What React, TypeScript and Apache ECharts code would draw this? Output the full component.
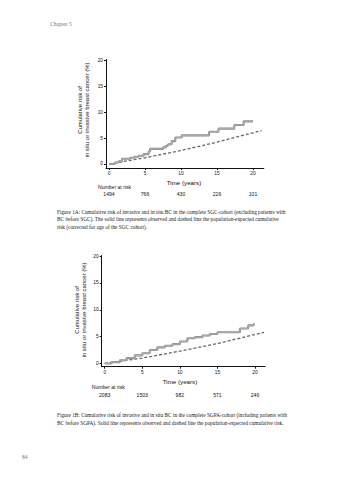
import React, { useEffect, useRef } from "react";
import * as echarts from "echarts";

// Figure 1A (SGC cohort)
const observedA: [number, number][] = [
  [0, 0], [0.8, 0.3], [1.3, 0.5], [1.8, 1.0], [2.9, 1.2], [3.5, 1.4], [4.1, 1.6],
  [4.8, 1.9], [5.5, 2.4], [5.7, 2.9], [7.5, 3.2], [7.9, 3.5], [8.2, 3.8], [8.7, 4.4],
  [9.2, 5.1], [10.1, 5.5], [13.9, 6.2], [15.2, 6.8], [17.4, 7.5], [18.7, 8.2], [20, 8.2],
];
const expectedA: [number, number][] = [
  [0, 0], [5, 1.2], [10, 2.6], [15, 4.2], [20, 6.0], [21.2, 6.4],
];
const riskYears = [0, 5, 10, 15, 20];
const riskA = ["1494", "766", "430", "226", "101"];

// Figure 1B (SGPA cohort)
const observedB: [number, number][] = [
  [0, 0], [0.9, 0.25], [2, 0.6], [2.9, 1.0], [4, 1.5], [5, 1.9], [6, 2.5], [7, 3.0],
  [8, 3.3], [9, 3.6], [10, 4.1], [11, 4.7], [12, 4.9], [13, 5.2], [14, 5.5], [15, 5.8],
  [18, 6.5], [19.1, 7.1], [19.8, 7.3], [20, 7.3],
];
const expectedB: [number, number][] = [
  [0, 0], [5, 1.0], [10, 2.3], [15, 3.7], [20, 5.4], [21.2, 5.8],
];
const riskB = ["2083", "1503", "982", "571", "246"];

const xTicks = [0, 5, 10, 15, 20];
const yTicks = [0, 5, 10, 15, 20];

const yTitle = "Cumulative risk of\nin situ or invasive breast cancer (%)";
const xTitle = "Time (years)";
const riskTitle = "Number at risk";
const captionA = [
  "Figure 1A: Cumulative risk of invasive and in situ BC in the complete SGC-cohort (excluding patients with",
  "BC before SGC). The solid line represents observed and dashed line the population-expected cumulative",
  "risk (corrected for age of the SGC cohort).",
];
const captionB = [
  "Figure 1B: Cumulative risk of invasive and in situ BC in the complete SGPA-cohort (including patients with",
  "BC before SGPA). Solid line represents observed and dashed line the population-expected cumulative risk.",
];

const SANS = "Liberation Sans, Arial, sans-serif";
const SERIF = "Liberation Serif, Times New Roman, serif";

function xAxisCfg(gridIndex: number, min: number, max: number) {
  return {
    type: "value",
    gridIndex,
    min,
    max,
    splitLine: { show: false },
    axisLine: { onZero: false, lineStyle: { color: "#111", width: 1 } },
    axisTick: { length: 2, customValues: xTicks, lineStyle: { color: "#111" } },
    axisLabel: { customValues: xTicks, fontSize: 4.8, margin: 3, color: "#111", fontFamily: SANS },
  };
}
function yAxisCfg(gridIndex: number, min: number, max: number) {
  return {
    type: "value",
    gridIndex,
    min,
    max,
    splitLine: { show: false },
    axisLine: { onZero: false, lineStyle: { color: "#111", width: 1 } },
    axisTick: { length: 2, customValues: yTicks, lineStyle: { color: "#111" } },
    axisLabel: { customValues: yTicks, fontSize: 4.8, margin: 3, color: "#111", fontFamily: SANS },
  };
}

function lineSeries(data: [number, number][], idx: number, kind: "outer" | "inner" | "dash") {
  const base: any = {
    type: "line",
    xAxisIndex: idx,
    yAxisIndex: idx,
    data,
    symbol: "none",
    silent: true,
  };
  if (kind === "dash") {
    base.lineStyle = { color: "#666", width: 1.3, type: [3, 2] };
  } else {
    base.step = "end";
    base.lineStyle =
      kind === "outer" ? { color: "#8a8a8a", width: 2.1 } : { color: "#bdbdbd", width: 0.7 };
  }
  return base;
}

export default function App() {
  const ref = useRef<HTMLDivElement>(null);
  useEffect(() => {
    if (!ref.current) return;
    const chart = echarts.init(ref.current, null, { renderer: "svg" });
    chart.setOption({
      animation: false,
      backgroundColor: "#ffffff",
      grid: [
        { left: 106, top: 59.5, width: 157.8, height: 108.5 },
        { left: 101.7, top: 255.5, width: 163.3, height: 111.2 },
      ],
      xAxis: [xAxisCfg(0, -0.42, 21.5), xAxisCfg(1, -0.4, 21.33)],
      yAxis: [yAxisCfg(0, -0.77, 20.1), yAxisCfg(1, -0.6, 20.1)],
      series: [
        lineSeries(expectedA, 0, "dash"),
        lineSeries(observedA, 0, "outer"),
        lineSeries(observedA, 0, "inner"),
        lineSeries(expectedB, 1, "dash"),
        lineSeries(observedB, 1, "outer"),
        lineSeries(observedB, 1, "inner"),
      ],
    });

    const g: any[] = [];
    const txt = (x: number, y: number, text: string, opts: any = {}) =>
      g.push({
        type: "text",
        x,
        y,
        rotation: opts.rotation || 0,
        silent: true,
        style: {
          text,
          fontSize: opts.fontSize || 5,
          fontFamily: opts.fontFamily || SANS,
          fill: opts.fill || "#111",
          align: opts.align || "left",
          verticalAlign: "middle",
          lineHeight: opts.lineHeight,
        },
      });

    // header / footer
    txt(50, 23.5, "Chapter 5", { fontSize: 5.6, fontFamily: SERIF, fill: "#777" });
    txt(22, 457, "84", { fontSize: 5.6, fontFamily: SERIF, fill: "#777" });

    // chart A annotations
    txt(83.5, 110, yTitle, { rotation: Math.PI / 2, align: "center", fontSize: 6, lineHeight: 7 });
    txt(184, 182, xTitle, { align: "center", fontSize: 6.2 });
    txt(98, 186.5, riskTitle, { fontSize: 5.1 });
    riskYears.forEach((yr, i) => {
      const p = chart.convertToPixel({ gridIndex: 0 }, [yr, 0]) as number[];
      txt(p[0], 194, riskA[i], { align: "center", fontSize: 5.1 });
    });

    // chart B annotations
    txt(80, 310, yTitle, { rotation: Math.PI / 2, align: "center", fontSize: 6, lineHeight: 7 });
    txt(180, 381, xTitle, { align: "center", fontSize: 6.2 });
    txt(91.7, 387, riskTitle, { fontSize: 5.1 });
    riskYears.forEach((yr, i) => {
      const p = chart.convertToPixel({ gridIndex: 1 }, [yr, 0]) as number[];
      txt(p[0], 394.5, riskB[i], { align: "center", fontSize: 5.1 });
    });

    // captions
    captionA.forEach((line, i) =>
      txt(57, 211.7 + i * 7.7, line, { fontSize: 5.3, fontFamily: SERIF, fill: "#1a1a1a" })
    );
    captionB.forEach((line, i) =>
      txt(57, 415 + i * 7.7, line, { fontSize: 5.3, fontFamily: SERIF, fill: "#1a1a1a" })
    );

    chart.setOption({ graphic: g });
    return () => chart.dispose();
  }, []);
  return (
    <div
      ref={ref}
      style={{ position: "fixed", left: 0, top: 0, width: 341, height: 480, background: "#fff" }}
    />
  );
}
